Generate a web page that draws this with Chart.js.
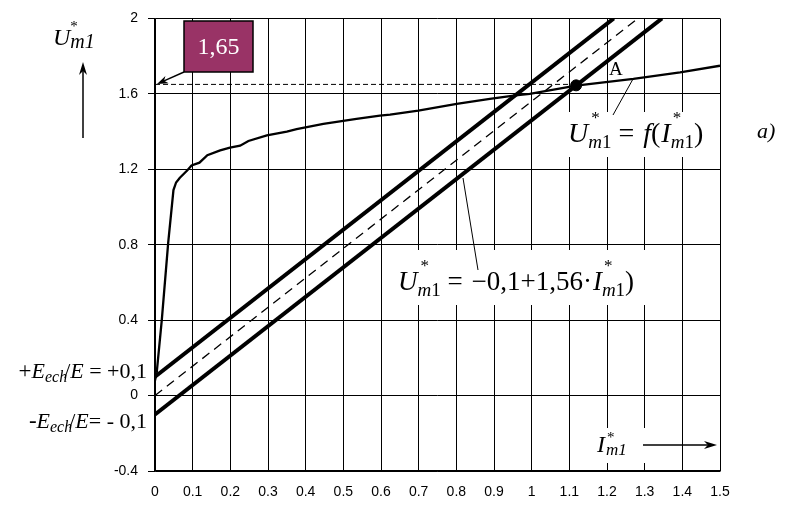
<!DOCTYPE html>
<html><head><meta charset="utf-8">
<script src="https://cdn.jsdelivr.net/npm/chart.js@4/dist/chart.umd.min.js"></script>
<style>html,body{margin:0;padding:0;background:#fff;}#wrap{width:786px;height:505px;}</style>
</head><body><div id="wrap"><canvas id="c" width="786" height="505"></canvas></div>
<script>
// ---- data ----
const xTicks = [0,0.1,0.2,0.3,0.4,0.5,0.6,0.7,0.8,0.9,1,1.1,1.2,1.3,1.4,1.5];
const yTicks = [-0.4,0,0.4,0.8,1.2,1.6,2];
// U*m1 = f(I*m1) characteristic
const curveX = [0,0.0045,0.018,0.035,0.049,0.056,0.066,0.086,0.097,0.118,0.139,0.173,0.199,0.226,0.248,0.297,0.35,0.376,0.447,0.535,0.597,0.624,0.699,0.801,0.889,0.957,0.995,1.118,1.27,1.394,1.5];
const curveY = [0.08,0.12,0.40,0.81,1.09,1.13,1.155,1.195,1.22,1.235,1.275,1.30,1.315,1.325,1.35,1.38,1.40,1.413,1.441,1.467,1.485,1.49,1.511,1.547,1.573,1.592,1.60,1.643,1.679,1.714,1.749];
// load lines  U = ±0.1 + 1.56 I  and U = 1.56 I
const upperX = [0,1.218];  const upperY = [0.1,2];
const lowerX = [0,1.346];  const lowerY = [-0.1,2];
const midX   = [0,1.282];  const midY   = [0,2];
// reference level 1,65 and operating point A
const refX = [0,1.118];    const refY = [1.65,1.65];
const pointAX = [1.118];   const pointAY = [1.645];

const pts = (xs,ys)=>xs.map((x,i)=>({x:x,y:ys[i]}));

const SERIF = '"Liberation Serif","Times New Roman",serif';
function F(size, italic){ return (italic?'italic ':'') + size + 'px ' + SERIF; }

function measure(ctx, segs){
  let w=0;
  segs.forEach(s=>{ ctx.font=s.f; const m=ctx.measureText(s.t).width; s.w=m; if(!s.noadv) w+=m + (s.dx||0); });
  return w;
}
function rich(ctx, x, y, segs, align){
  const w = measure(ctx, segs);
  let cx = align==='right' ? x-w : x;
  ctx.textBaseline='alphabetic'; ctx.textAlign='left';
  segs.forEach(s=>{
    ctx.font=s.f;
    ctx.fillText(s.t, cx + (s.ox||0), y + (s.dy||0));
    if(!s.noadv) cx += s.w + (s.dx||0);
  });
}
function arrow(ctx,x1,y1,x2,y2,head,hw,lw){
  const a=Math.atan2(y2-y1,x2-x1);
  ctx.save();
  ctx.strokeStyle='#000'; ctx.fillStyle='#000'; ctx.lineWidth=lw;
  ctx.beginPath(); ctx.moveTo(x1,y1);
  ctx.lineTo(x2-Math.cos(a)*head*0.7, y2-Math.sin(a)*head*0.7); ctx.stroke();
  ctx.beginPath();
  ctx.moveTo(x2,y2);
  ctx.lineTo(x2-Math.cos(a)*head - Math.sin(a)*hw, y2-Math.sin(a)*head + Math.cos(a)*hw);
  ctx.lineTo(x2-Math.cos(a)*head*0.7, y2-Math.sin(a)*head*0.7);
  ctx.lineTo(x2-Math.cos(a)*head + Math.sin(a)*hw, y2-Math.sin(a)*head - Math.cos(a)*hw);
  ctx.closePath(); ctx.fill();
  ctx.restore();
}
function line(ctx,x1,y1,x2,y2,lw){
  ctx.save(); ctx.strokeStyle='#000'; ctx.lineWidth=lw;
  ctx.beginPath(); ctx.moveTo(x1,y1); ctx.lineTo(x2,y2); ctx.stroke(); ctx.restore();
}

const annot = {
  id:'annot',
  beforeDatasetsDraw(chart){
    const ctx=chart.ctx; ctx.save(); ctx.fillStyle='#fff';
    ctx.fillRect(560,112,152,45);   // label f(I)
    ctx.fillRect(386,250,272,55);   // label load line
    ctx.fillRect(590,428,60,35);    // I*m1 label
    ctx.restore();
  },
  afterDatasetsDraw(chart){
    const ctx=chart.ctx; ctx.save(); ctx.fillStyle='#000';
    // box 1,65
    ctx.fillStyle='#993366'; ctx.fillRect(184,21,69,51);
    ctx.strokeStyle='#000'; ctx.lineWidth=1.5; ctx.strokeRect(184,21,69,51);
    ctx.fillStyle='#fff'; ctx.font=F(24,false); ctx.textAlign='center'; ctx.textBaseline='alphabetic';
    ctx.fillText('1,65',218.5,54);
    arrow(ctx,184,72,157,84,11,4,1.5);
    ctx.fillStyle='#000';
    // leader lines
    line(ctx,613,115,633,79,1);
    line(ctx,478,270,463,178,1);
    // A
    ctx.font=F(19,false); ctx.textAlign='left'; ctx.fillText('A',609,75);
    // a)
    ctx.font=F(22,true); ctx.fillText('a)',757,138);
    // equation 1
    rich(ctx,568,142,[
      {t:'U',f:F(28,true)},
      {t:'*',f:F(17,false),dy:-19,noadv:true,ox:3},
      {t:'m',f:F(19,true),dy:6},
      {t:'1',f:F(19,false),dy:6},
      {t:' = ',f:F(28,false),dx:2},
      {t:'f',f:F(28,true)},
      {t:'(',f:F(28,false),dx:1},
      {t:'I',f:F(28,true)},
      {t:'*',f:F(17,false),dy:-19,noadv:true,ox:2},
      {t:'m',f:F(19,true),dy:6},
      {t:'1',f:F(19,false),dy:6},
      {t:')',f:F(28,false)}
    ]);
    // equation 2
    rich(ctx,398,290,[
      {t:'U',f:F(27,true)},
      {t:'*',f:F(17,false),dy:-19,noadv:true,ox:3},
      {t:'m',f:F(19,true),dy:6},
      {t:'1',f:F(19,false),dy:6},
      {t:' = ',f:F(27,false),dx:2},
      {t:'\u2212',f:F(27,false)},
      {t:'0,1',f:F(27,false)},
      {t:'+',f:F(27,false)},
      {t:'1,56',f:F(27,false)},
      {t:'\u00b7',f:F(27,false),dx:1},
      {t:'I',f:F(27,true)},
      {t:'*',f:F(17,false),dy:-19,noadv:true,ox:2},
      {t:'m',f:F(19,true),dy:6},
      {t:'1',f:F(19,false),dy:6},
      {t:')',f:F(27,false)}
    ]);
    // axis name U*m1
    rich(ctx,53,45,[
      {t:'U',f:F(24,true)},
      {t:'*',f:F(15,false),dy:-14,noadv:true,ox:0},
      {t:'m1',f:F(20,true),dy:3}
    ]);
    arrow(ctx,83,138,83,62,13,4,1.5);
    // axis name I*m1
    rich(ctx,597,452,[
      {t:'I',f:F(24,true),dx:1},
      {t:'*',f:F(15,false),dy:-10,noadv:true,ox:1},
      {t:'m1',f:F(17,true),dy:3}
    ]);
    arrow(ctx,643,445,717,445,13,4,1.5);
    // left annotations
    rich(ctx,147,378,[
      {t:'+',f:F(23,false)},
      {t:'E',f:F(22,true)},
      {t:'ech',f:F(16,true),dy:4,dx:-3},
      {t:'/',f:F(22,false)},
      {t:'E',f:F(22,true)},
      {t:' = +0,1',f:F(22,false)}
    ],'right');
    rich(ctx,147,428,[
      {t:'-',f:F(23,false)},
      {t:'E',f:F(22,true)},
      {t:'ech',f:F(16,true),dy:4,dx:-3},
      {t:'/',f:F(22,false)},
      {t:'E',f:F(22,true)},
      {t:'= - 0,1',f:F(22,false)}
    ],'right');
    ctx.restore();
  }
};

const tickFont = {family:'"Liberation Sans", Arial, sans-serif', size:14};

new Chart(document.getElementById('c'), {
  type:'scatter',
  data:{datasets:[
    {data:pts(curveX,curveY), showLine:true, borderColor:'#000', borderWidth:2.3, pointRadius:0, tension:0},
    {data:pts(upperX,upperY), showLine:true, borderColor:'#000', borderWidth:4, pointRadius:0},
    {data:pts(lowerX,lowerY), showLine:true, borderColor:'#000', borderWidth:4, pointRadius:0},
    {data:pts(midX,midY), showLine:true, borderColor:'#000', borderWidth:1.3, borderDash:[9,6], pointRadius:0},
    {data:pts(refX,refY), showLine:true, borderColor:'#000', borderWidth:1, borderDash:[5,3], pointRadius:0},
    {data:pts(pointAX,pointAY), showLine:false, pointRadius:5.5, pointBackgroundColor:'#000', pointBorderColor:'#000'}
  ]},
  options:{
    responsive:false, animation:false,
    layout:{padding:{left:0,right:66,top:17,bottom:0}},
    plugins:{legend:{display:false}, tooltip:{enabled:false}},
    scales:{
      x:{type:'linear', min:0, max:1.5,
        afterBuildTicks:s=>{ s.ticks = xTicks.map(v=>({value:v})); },
        ticks:{callback:v=>String(v), font:tickFont, color:'#000', padding:13, maxRotation:0, autoSkip:false},
        grid:{color:'#000', lineWidth:1, drawTicks:false},
        border:{color:'#000', width:1.5},
        afterFit:s=>{ s.height=34; }
      },
      y:{type:'linear', min:-0.4, max:2,
        afterBuildTicks:s=>{ s.ticks = yTicks.map(v=>({value:v})); },
        ticks:{callback:v=>String(v), font:tickFont, color:'#000', padding:10},
        grid:{color:'#000', lineWidth:1, tickLength:7},
        border:{color:'#000', width:1.5},
        afterFit:s=>{ s.width=155; }
      }
    }
  },
  plugins:[annot]
});
</script>
</body></html>
